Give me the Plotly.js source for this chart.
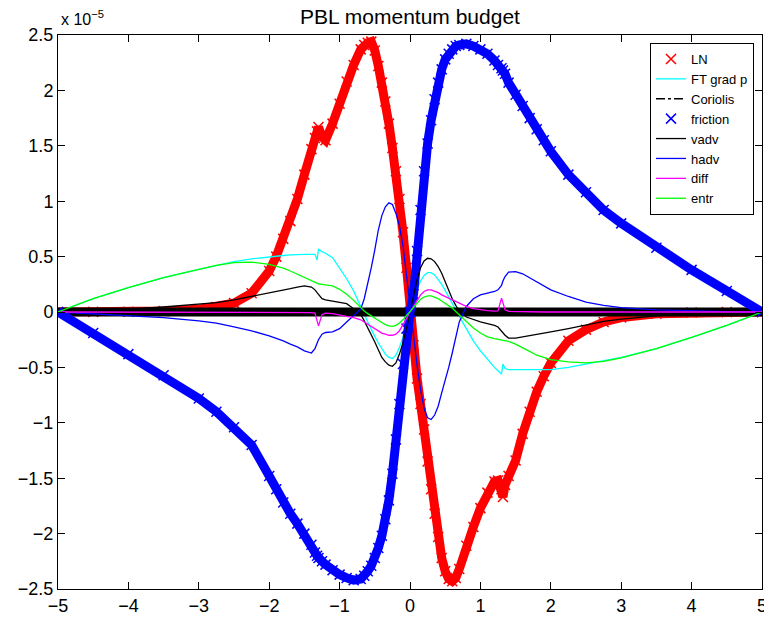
<!DOCTYPE html>
<html>
<head>
<meta charset="utf-8">
<script src="https://cdn.plot.ly/plotly-3.0.1.min.js"></script>
<style>html,body{margin:0;padding:0;background:#fff;}#chart{width:764px;height:619px;}</style>
</head>
<body>
<div id="chart"></div>
<script>
// x positions (shared by every series)
const xs = [-5,-4.5,-4,-3.5,-3,-2.75,-2.5,-2.25,-2,-1.9,-1.8,-1.7,-1.6,-1.5,-1.4,-1.35,-1.32,-1.3,-1.25,-1.2,-1.1,-1,-0.9,-0.8,-0.7,-0.65,-0.6,-0.55,-0.5,-0.45,-0.4,-0.35,-0.3,-0.25,-0.2,-0.15,-0.1,-0.05,
  0,
  0.05,0.1,0.15,0.2,0.25,0.3,0.35,0.4,0.45,0.5,0.55,0.6,0.65,0.7,0.8,0.9,1,1.1,1.2,1.25,1.3,1.32,1.35,1.4,1.5,1.6,1.7,1.8,1.9,2,2.25,2.5,2.75,3,3.5,4,4.5,5];

// values in units of 1e-5
const LN = [0,0.001,0.003,0.008,0.025,0.045,0.08,0.17,0.37,0.5,0.66,0.82,1.02,1.24,1.47,1.57,1.63,1.67,1.58,1.55,1.7,1.88,2.08,2.23,2.37,2.41,2.43,2.44,2.36,2.22,2.07,1.9,1.7,1.48,1.27,1.02,0.72,0.4,
  0,
  -0.3,-0.6,-0.83,-1.06,-1.35,-1.6,-1.82,-2.03,-2.22,-2.34,-2.41,-2.43,-2.4,-2.32,-2.11,-1.94,-1.77,-1.63,-1.53,-1.52,-1.6,-1.67,-1.56,-1.48,-1.34,-1.1,-0.9,-0.72,-0.58,-0.46,-0.26,-0.16,-0.09,-0.05,-0.015,-0.005,-0.001,0];

const FTgradp = [0,0.12,0.22,0.31,0.385,0.42,0.455,0.48,0.5,0.505,0.51,0.515,0.52,0.52,0.52,0.52,0.47,0.565,0.545,0.53,0.49,0.4,0.3,0.19,0.06,-0.02,-0.09,-0.16,-0.22,-0.28,-0.33,-0.38,-0.41,-0.42,-0.39,-0.32,-0.23,-0.12,
  0,
  0.1,0.2,0.28,0.33,0.355,0.355,0.335,0.295,0.25,0.195,0.135,0.08,0.02,-0.04,-0.15,-0.26,-0.35,-0.43,-0.5,-0.53,-0.56,-0.47,-0.51,-0.52,-0.52,-0.52,-0.52,-0.52,-0.52,-0.52,-0.5,-0.47,-0.44,-0.41,-0.33,-0.23,-0.12,0];

const coriolis = [0,0,0,0,0,0,0,0,0,0,0,0,0,0,0,0,0,0,0,0,0,0,0,0,0,0,0,0,0,0,0,0,0,0,0,0,0,0,
  0,
  0,0,0,0,0,0,0,0,0,0,0,0,0,0,0,0,0,0,0,0,0,0,0,0,0,0,0,0,0,0,0,0,0,0,0,0,0,0];

const friction = [0,-0.19,-0.38,-0.57,-0.78,-0.9,-1.04,-1.2,-1.48,-1.6,-1.72,-1.82,-1.91,-2.0,-2.1,-2.17,-2.2,-2.22,-2.25,-2.28,-2.33,-2.37,-2.4,-2.42,-2.41,-2.38,-2.34,-2.29,-2.22,-2.13,-2.02,-1.87,-1.7,-1.46,-1.15,-0.83,-0.47,-0.15,
  0,
  0.16,0.55,0.92,1.27,1.52,1.73,1.92,2.07,2.19,2.28,2.33,2.37,2.4,2.41,2.42,2.4,2.37,2.33,2.27,2.23,2.2,2.18,2.15,2.07,1.96,1.86,1.75,1.65,1.55,1.45,1.24,1.08,0.92,0.8,0.58,0.38,0.19,0];

const vadv = [0,0.01,0.025,0.045,0.07,0.085,0.11,0.14,0.17,0.185,0.2,0.21,0.225,0.235,0.225,0.2,0.175,0.16,0.12,0.11,0.1,0.09,0.075,0.03,-0.02,-0.08,-0.14,-0.2,-0.27,-0.34,-0.41,-0.45,-0.48,-0.49,-0.46,-0.38,-0.28,-0.15,
  0,
  0.15,0.29,0.4,0.46,0.485,0.48,0.455,0.41,0.35,0.27,0.19,0.12,0.06,0.01,-0.045,-0.07,-0.09,-0.105,-0.12,-0.135,-0.17,-0.19,-0.21,-0.235,-0.235,-0.225,-0.215,-0.2,-0.19,-0.18,-0.15,-0.115,-0.085,-0.065,-0.035,-0.02,-0.008,0];

const hadv = [0,-0.015,-0.035,-0.05,-0.08,-0.1,-0.135,-0.17,-0.215,-0.235,-0.26,-0.29,-0.315,-0.35,-0.37,-0.33,-0.29,-0.25,-0.2,-0.185,-0.18,-0.15,-0.09,-0.035,0.025,0.12,0.25,0.4,0.56,0.74,0.87,0.95,0.985,0.97,0.89,0.78,0.6,0.32,
  0.03,
  -0.24,-0.48,-0.7,-0.87,-0.955,-0.97,-0.93,-0.85,-0.73,-0.62,-0.5,-0.37,-0.22,-0.09,0.05,0.12,0.155,0.17,0.185,0.2,0.24,0.28,0.32,0.36,0.365,0.345,0.31,0.275,0.235,0.2,0.14,0.09,0.06,0.04,0.02,0.01,0.004,0];

const diffu = [0,0,0,0,0,0,0,0,0,0,0,0,-0.002,-0.003,-0.005,-0.01,-0.07,-0.125,-0.025,-0.01,-0.015,-0.03,-0.04,-0.05,-0.07,-0.09,-0.11,-0.135,-0.155,-0.175,-0.19,-0.2,-0.21,-0.21,-0.2,-0.17,-0.12,-0.06,
  0,
  0.055,0.11,0.155,0.185,0.2,0.2,0.19,0.175,0.155,0.14,0.125,0.105,0.09,0.075,0.05,0.03,0.02,0.012,0.008,0.01,0.125,0.09,0.02,0.005,0.003,0.002,0,0,0,0,0,0,0,0,0,0,0,0];

const entr = [0,0.12,0.22,0.31,0.385,0.42,0.445,0.45,0.43,0.415,0.395,0.37,0.34,0.31,0.28,0.265,0.26,0.255,0.25,0.245,0.235,0.205,0.16,0.105,0.04,0.01,-0.015,-0.035,-0.055,-0.08,-0.1,-0.115,-0.125,-0.13,-0.12,-0.1,-0.07,-0.035,
  0,
  0.04,0.08,0.115,0.135,0.145,0.145,0.135,0.12,0.1,0.08,0.06,0.035,0.005,-0.025,-0.085,-0.145,-0.19,-0.225,-0.24,-0.245,-0.25,-0.252,-0.256,-0.265,-0.29,-0.32,-0.355,-0.39,-0.41,-0.43,-0.45,-0.46,-0.445,-0.415,-0.33,-0.23,-0.12,0];

const xTicks = [-5,-4,-3,-2,-1,0,1,2,3,4,5];
const xTickLabels = ['\u22125','\u22124','\u22123','\u22122','\u22121','0','1','2','3','4','5'];
const yTicks = [-2.5,-2,-1.5,-1,-0.5,0,0.5,1,1.5,2,2.5];
const yTickLabels = ['\u22122.5','\u22122','\u22121.5','\u22121','\u22120.5','0','0.5','1','1.5','2','2.5'];

const RED='#ff0000', BLUE='#0000ff', CYAN='#00ffff', BLACK='#000000', MAG='#ff00ff', GREEN='#00ff00';
const LW = 1.3;

const traces = [
  {x: xs, y: LN, mode:'lines', line:{color:RED, width:9}, showlegend:false, hoverinfo:'skip'},
  {x: xs, y: LN, name:'LN', mode:'markers', marker:{symbol:'x-thin', size:10, color:RED, line:{color:RED, width:1.5}}},
  {x: xs, y: FTgradp, name:'FT grad p', mode:'lines', line:{color:CYAN, width:LW}},
  {x: xs, y: coriolis, mode:'lines', line:{color:BLACK, width:9}, showlegend:false, hoverinfo:'skip'},
  {x: xs, y: coriolis, name:'Coriolis', mode:'lines', line:{color:BLACK, width:LW, dash:'dashdot'}},
  {x: xs, y: friction, mode:'lines', line:{color:BLUE, width:9}, showlegend:false, hoverinfo:'skip'},
  {x: xs, y: friction, name:'friction', mode:'markers', marker:{symbol:'x-thin', size:10, color:BLUE, line:{color:BLUE, width:1.5}}},
  {x: xs, y: vadv, name:'vadv', mode:'lines', line:{color:BLACK, width:LW}},
  {x: xs, y: hadv, name:'hadv', mode:'lines', line:{color:BLUE, width:LW}},
  {x: xs, y: diffu, name:'diff', mode:'lines', line:{color:MAG, width:LW}},
  {x: xs, y: entr, name:'entr', mode:'lines', line:{color:GREEN, width:LW}}
];

const axisCommon = {
  showline:true, mirror:'ticks', linecolor:'black', linewidth:1,
  ticks:'inside', ticklen:7, tickwidth:1, tickcolor:'black',
  showgrid:false, zeroline:false, tickfont:{size:18, color:'black'},
  ticklabeloverflow:'allow'
};

const layout = {
  width:764, height:619,
  margin:{l:58, r:2, t:35, b:30, pad:0},
  paper_bgcolor:'white', plot_bgcolor:'white',
  font:{family:'"Liberation Sans", Arial, Helvetica, sans-serif', color:'black', size:18},
  title:{text:'PBL momentum budget', font:{size:21, color:'black'}, xref:'paper', x:0.5, xanchor:'center', yref:'container', y:1-17/619, yanchor:'middle'},
  xaxis:Object.assign({range:[-5,5], tickmode:'array', tickvals:xTicks, ticktext:xTickLabels}, axisCommon),
  yaxis:Object.assign({range:[-2.5,2.5], tickmode:'array', tickvals:yTicks, ticktext:yTickLabels}, axisCommon),
  showlegend:true,
  legend:{x:(754-58)/704, xanchor:'right', y:(589-43)/554, yanchor:'top', bordercolor:'black', borderwidth:1, bgcolor:'white', font:{size:13, color:'black'}, tracegroupgap:0, entrywidthmode:'pixels', entrywidth:72},
  annotations:[{xref:'paper', yref:'paper', x:0, y:1, xanchor:'left', yanchor:'bottom', xshift:1, yshift:5, text:'x 10<sup>\u22125</sup>', showarrow:false, font:{size:16, color:'black'}}]
};

Plotly.newPlot('chart', traces, layout, {displayModeBar:false, staticPlot:true});
</script>
</body>
</html>
